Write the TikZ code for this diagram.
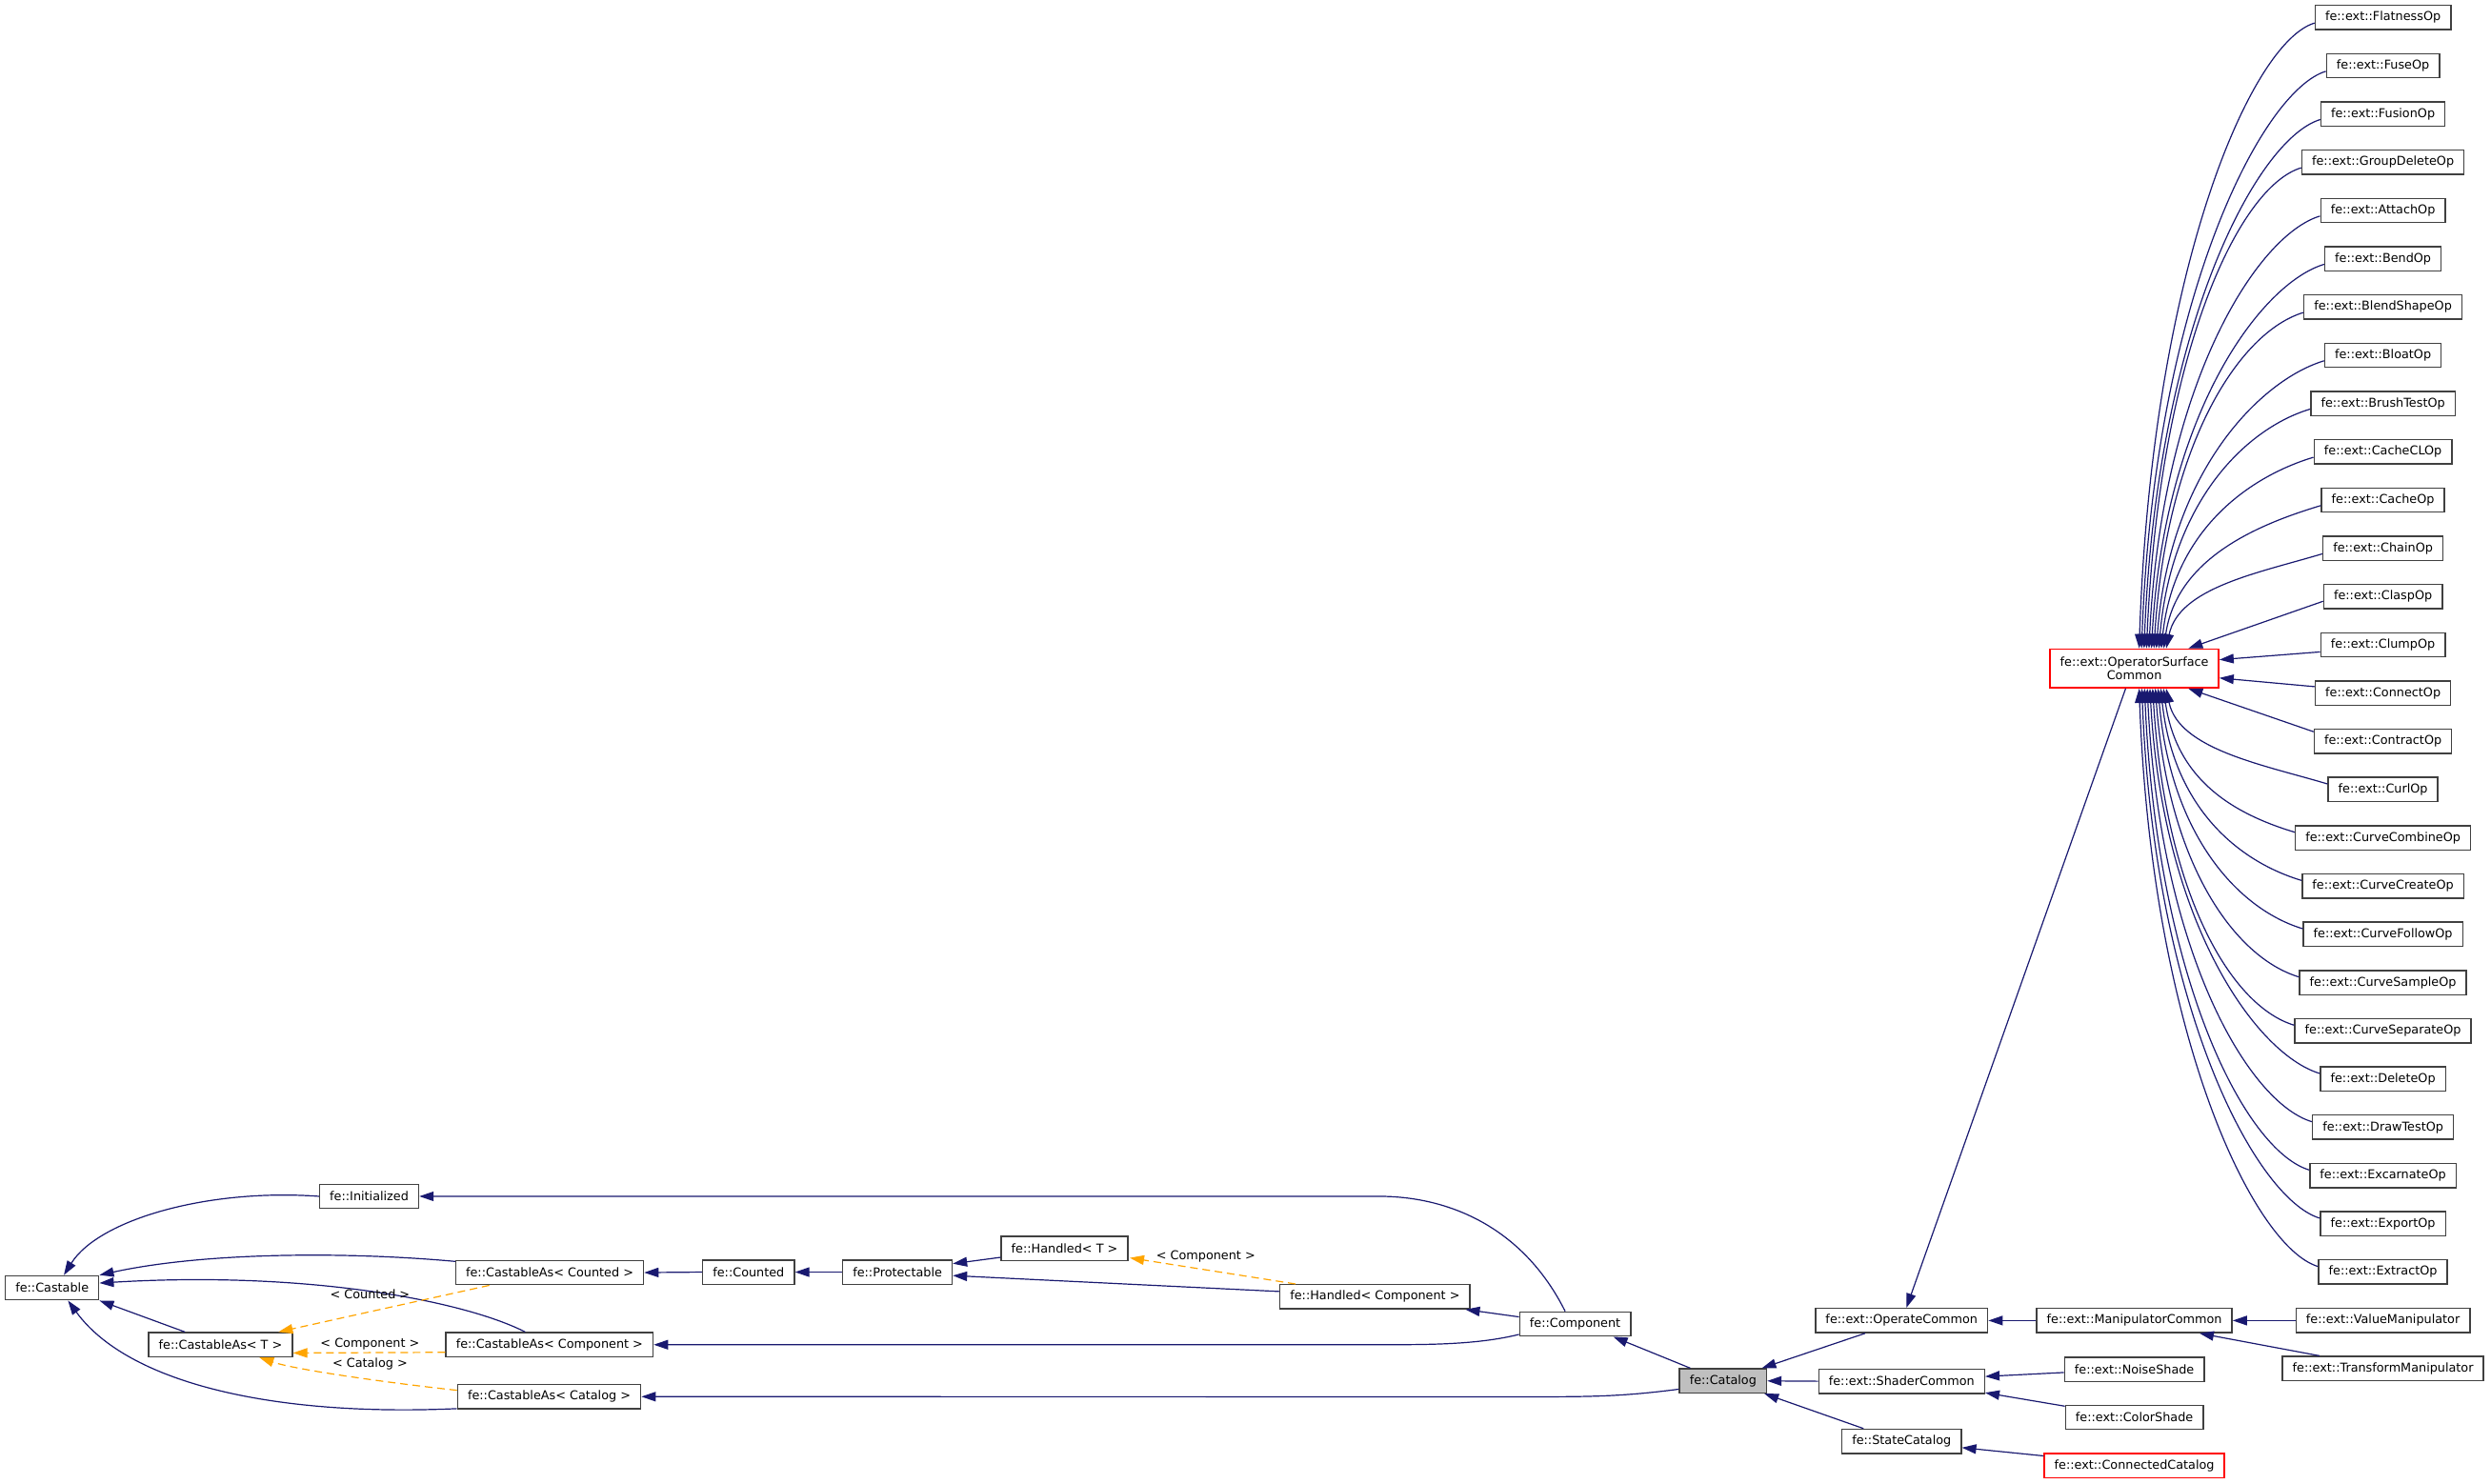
\documentclass[tikz,border=0pt]{standalone}
\usepackage{fontspec}
\setmainfont{DejaVu Sans}
\usetikzlibrary{arrows.meta, calc}
\definecolor{EdgeNavy}{HTML}{191970}
\definecolor{TemplOrange}{HTML}{FFA500}
\definecolor{BoxBorder}{HTML}{404040}
\definecolor{CurrentFill}{HTML}{BFBFBF}
\definecolor{LinkRed}{HTML}{FF0000}

\begin{document}
\begin{tikzpicture}[x=0.8339pt, y=-0.8339pt,
    cls/.style={draw=BoxBorder, line width=0.7pt, fill=white, inner xsep=5.3pt, inner ysep=0pt,
      minimum height=12.7pt, font=\fontsize{6.4}{7.2}\selectfont},
    clsred/.style={cls, draw=LinkRed},
    clscur/.style={cls, fill=CurrentFill},
    inh/.style={draw=EdgeNavy, line width=0.6pt, -{Triangle[length=7.5pt,width=5pt]}},
    tmpl/.style={inh, draw=TemplOrange, dash pattern=on 4pt off 2.5pt},
    lbl/.style={inner sep=0pt, font=\fontsize{6.4}{7.2}\selectfont}]
  \useasboundingbox (0,0) rectangle (1568,934);
  \fill[white] (0,0) rectangle (1568,934);

  % left part
  \node[cls] (cast) at (32.8,810.7) {fe::Castable};
  \node[cls] (init) at (232.4,753.1) {fe::Initialized};
  \node[cls] (castCnt) at (346,801.1) {fe::CastableAs< Counted >};
  \node[cls] (castT) at (138.8,846.5) {fe::CastableAs< T >};
  \node[cls] (castComp) at (345.9,846.5) {fe::CastableAs< Component >};
  \node[cls] (castCat) at (345.7,879.2) {fe::CastableAs< Catalog >};
  \node[cls] (counted) at (471.2,800.8) {fe::Counted};
  \node[cls] (prot) at (564.9,800.8) {fe::Protectable};
  \node[cls] (hdlT) at (670.1,785.8) {fe::Handled< T >};
  \node[cls] (hdlComp) at (865.5,816.3) {fe::Handled< Component >};
  \node[cls] (comp) at (991.5,833.5) {fe::Component};
  \node[clscur] (catalog) at (1084.6,869.3) {fe::Catalog};

  % right part
  \node[cls] (opCom) at (1197,831.3) {fe::ext::OperateCommon};
  \node[cls] (shCom) at (1197,869.5) {fe::ext::ShaderCommon};
  \node[cls] (stCat) at (1197,907.3) {fe::StateCatalog};
  \node[cls] (manCom) at (1343.5,831.3) {fe::ext::ManipulatorCommon};
  \node[cls] (noise) at (1343.5,862) {fe::ext::NoiseShade};
  \node[cls] (color) at (1343.5,892.2) {fe::ext::ColorShade};
  \node[clsred] (connCat) at (1343.5,922.5) {fe::ext::ConnectedCatalog};
  \node[cls] (valMan) at (1500,831.3) {fe::ext::ValueManipulator};
  \node[cls] (trMan) at (1500,861.5) {fe::ext::TransformManipulator};
  \node[clsred, align=center, minimum height=20.4pt] (osc) at (1343.5,420.8) {fe::ext::OperatorSurface\\Common};

  \foreach \nm [count=\i from 0] in {FlatnessOp,FuseOp,FusionOp,GroupDeleteOp,AttachOp,BendOp,
      BlendShapeOp,BloatOp,BrushTestOp,CacheCLOp,CacheOp,ChainOp,ClaspOp,ClumpOp,ConnectOp,
      ContractOp,CurlOp,CurveCombineOp,CurveCreateOp,CurveFollowOp,CurveSampleOp,
      CurveSeparateOp,DeleteOp,DrawTestOp,ExcarnateOp,ExportOp,ExtractOp}
    \node[cls] (op\i) at (1500,{11+30.375*\i}) {fe::ext::\nm};

  % edges to fe::Castable
  \draw[inh] (init.west) .. controls (130,748) and (62,768) .. ($(cast.north)+(7.4,0)$);
  \draw[inh] ($(castCnt.north west)+(0,1)$) .. controls (220,788) and (130,788) .. (cast.north east);
  \draw[inh] ($(castComp.north)+(-15.3,0)$) .. controls (290,818) and (190,800) .. ($(cast.east)+(0,-3)$);
  \draw[inh] ($(castT.north)+(-22.4,0)$) -- (cast.south east);
  \draw[inh] ($(castCat.south west)+(0,-0.5)$) .. controls (170,892) and (80,870) .. ($(cast.south)+(10,0)$);

  % template instances
  \draw[tmpl] ($(castCnt.south)+(-38,0)$) -- ($(castT.north)+(36.5,0)$);
  \draw[tmpl] ($(castComp.west)+(0,4.8)$) -- ($(castT.east)+(0,5.2)$);
  \draw[tmpl] ($(castCat.west)+(0,-4)$) .. controls (240,870) and (185,862) .. ($(castT.south)+(24.5,0)$);
  \node[lbl] (lCnt) at (232.9,814.5) {< Counted >};
  \node[lbl] (lComp) at (232.9,846.2) {< Component >};
  \node[lbl] (lCat) at (232.9,858.6) {< Catalog >};
  \draw[tmpl] ($(hdlComp.north)+(-50,0)$) -- ($(hdlT.south east)+(0.8,-2)$);
  \node[lbl] (lHdl) at (759,790.7) {< Component >};

  % middle chain
  \draw[inh] (counted.west) -- (castCnt.east);
  \draw[inh] (prot.west) -- (counted.east);
  \draw[inh] ($(hdlT.west)+(0,5.7)$) -- ($(prot.east)+(0,-5.3)$);
  \draw[inh] ($(hdlComp.west)+(0,-3.3)$) -- ($(prot.east)+(0,2.2)$);
  \draw[inh] ($(comp.west)+(0,-4.5)$) -- ($(hdlComp.south east)+(-3.2,0)$);
  \draw[inh] ($(comp.north)+(-6.3,0)$) .. controls (960,775) and (915,753.1) .. (868,753.1) -- (init.east);
  \draw[inh] ($(comp.south west)+(0,-1.5)$) .. controls (930,846.5) and (900,846.5) .. (868,846.5) -- (castComp.east);
  \draw[inh] ($(catalog.north)+(-20.6,0)$) -- ($(comp.south)+(24,0)$);
  \draw[inh] ($(catalog.west)+(0,5.2)$) .. controls (1020,879.3) and (1000,879.3) .. (960,879.3) -- (castCat.east);

  % right cluster
  \draw[inh] ($(opCom.south)+(-23,0)$) -- ($(catalog.north)+(24.4,0)$);
  \draw[inh] (shCom.west) -- (catalog.east);
  \draw[inh] ($(stCat.north)+(-24,0)$) -- ($(catalog.south)+(26,0)$);
  \draw[inh] (manCom.west) -- (opCom.east);
  \draw[inh] (valMan.west) -- (manCom.east);
  \draw[inh] ($(trMan.north)+(-40,0)$) -- ($(manCom.south)+(41,0)$);
  \draw[inh] ($(noise.west)+(0,2)$) -- ($(shCom.east)+(0,-3)$);
  \draw[inh] ($(color.west)+(0,-7)$) -- ($(shCom.south east)+(0,-0.8)$);
  \draw[inh] ($(connCat.west)+(0,-6)$) -- ($(stCat.east)+(0,4)$);
  \draw[inh] ($(osc.south)+(-5.5,0)$) -- ($(opCom.north)+(3,0)$);

  % operators
  \foreach \i in {0,...,11}{
    \pgfmathsetmacro\ex{3+1.55*\i}
    \pgfmathsetmacro\dd{0.6*(409-11-30.375*\i)}
    \draw[inh] ($(op\i.west)+(0,3.5)$) .. controls +(-40,12) and +(8,-\dd) .. ($(osc.north)+(\ex,0)$);
  }
  \draw[inh] ($(op12.west)+(0,3)$) -- ($(osc.north)+(34,0)$);
  \draw[inh] ($(op13.west)+(0,4.5)$) -- ($(osc.east)+(0,-5.5)$);
  \draw[inh] ($(op14.west)+(0,-4)$) -- ($(osc.east)+(0,6)$);
  \draw[inh] ($(op15.west)+(0,-6)$) -- ($(osc.south)+(34,0)$);
  \foreach \i in {16,...,26}{
    \pgfmathsetmacro\ex{20-1.7*(\i-16)}
    \pgfmathsetmacro\dd{0.6*(11+30.375*\i-433)}
    \draw[inh] ($(op\i.west)+(0,-3.5)$) .. controls +(-40,-12) and +(8,\dd) .. ($(osc.south)+(\ex,0)$);
  }
\end{tikzpicture}
\end{document}
